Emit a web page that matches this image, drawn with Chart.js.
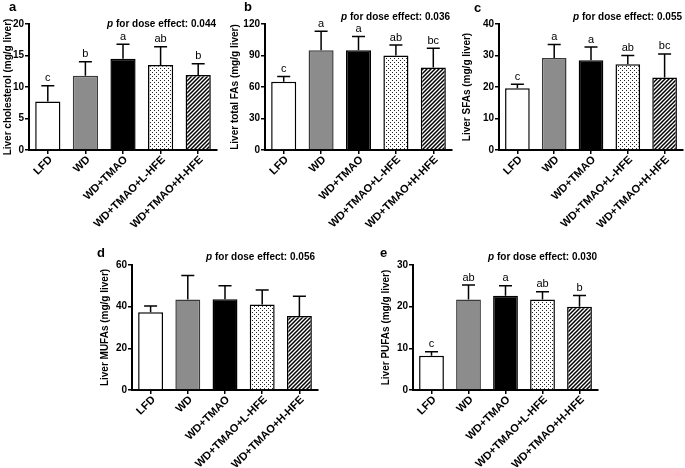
<!DOCTYPE html>
<html><head><meta charset="utf-8">
<script src="https://cdn.jsdelivr.net/npm/chart.js@4"></script>
<style>
body{margin:0;background:#fff}
#wrap{position:relative;width:685px;height:468px;background:#fff}
#wrap canvas{position:absolute;left:0;top:0}
</style></head>
<body><div id="wrap">
<canvas id="ca" width="685" height="468"></canvas>
<canvas id="cb" width="685" height="468"></canvas>
<canvas id="cc" width="685" height="468"></canvas>
<canvas id="cd" width="685" height="468"></canvas>
<canvas id="ce" width="685" height="468"></canvas>
</div>
<script>
const groups = ['LFD', 'WD', 'WD+TMAO', 'WD+TMAO+L-HFE', 'WD+TMAO+H-HFE'];

const cholMean = [7.7, 11.8, 14.5, 13.5, 11.9];
const cholSD = [2.5, 2.2, 2.3, 2.9, 1.8];
const cholLetters = ['c', 'b', 'a', 'ab', 'b'];
const cholTicks = [0, 5, 10, 15, 20];

const tfaMean = [65, 95, 95, 90, 78.5];
const tfaSD = [5, 18, 13, 10, 18.5];
const tfaLetters = ['c', 'a', 'a', 'ab', 'bc'];
const tfaTicks = [0, 30, 60, 90, 120];

const sfaMean = [19.6, 29.2, 28.5, 27.2, 23];
const sfaSD = [1.3, 4.3, 4.2, 2.8, 7.5];
const sfaLetters = ['c', 'a', 'a', 'ab', 'bc'];
const sfaTicks = [0, 10, 20, 30, 40];

const mufaMean = [37.3, 43.5, 43.6, 41, 35.5];
const mufaSD = [3, 11.5, 6.5, 7, 9.5];
const mufaLetters = ['', '', '', '', ''];
const mufaTicks = [0, 20, 40, 60];

const pufaMean = [8.2, 21.7, 22.6, 21.7, 20];
const pufaSD = [1.0, 3.5, 2.4, 1.9, 2.7];
const pufaLetters = ['c', 'ab', 'a', 'ab', 'b'];
const pufaTicks = [0, 10, 20, 30];

const pValues = ['0.044', '0.036', '0.055', '0.056', '0.030'];

const FONT = '"Liberation Sans", Arial, sans-serif';
const W = 685, H = 468;

function makePatterns(ctx) {
  const d = document.createElement('canvas');
  d.width = 4; d.height = 4;
  const g = d.getContext('2d');
  g.fillStyle = '#fff'; g.fillRect(0, 0, 4, 4);
  g.fillStyle = '#222';
  g.fillRect(0, 0, 1, 1); g.fillRect(2, 2, 1, 1);
  const h = document.createElement('canvas');
  h.width = 4; h.height = 4;
  const k = h.getContext('2d');
  k.fillStyle = '#fff'; k.fillRect(0, 0, 4, 4);
  k.strokeStyle = '#000'; k.lineWidth = 1.5;
  k.beginPath();
  k.moveTo(0, 4); k.lineTo(4, 0);
  k.moveTo(-1, 1); k.lineTo(1, -1);
  k.moveTo(3, 5); k.lineTo(5, 3);
  k.stroke();
  return [ctx.createPattern(d, 'repeat'), ctx.createPattern(h, 'repeat')];
}

function panel(id, p) {
  const canvas = document.getElementById(id);
  const ctx = canvas.getContext('2d');
  const [dots, hatch] = makePatterns(ctx);
  const YW = 24, XH = 5;
  const ticks = p.ticks;
  const annot = {
    id: 'annot' + id,
    afterDatasetsDraw(chart) {
      const c = chart.ctx;
      const meta = chart.getDatasetMeta(0);
      const ys = chart.scales.y;
      c.save();
      c.strokeStyle = '#000';
      c.lineWidth = 1.5;
      meta.data.forEach((bar, i) => {
        const top = ys.getPixelForValue(p.mean[i] + p.sd[i]);
        c.beginPath();
        c.moveTo(bar.x, bar.y);
        c.lineTo(bar.x, top);
        c.moveTo(bar.x - 6.5, top);
        c.lineTo(bar.x + 6.5, top);
        c.stroke();
        if (p.letters[i]) {
          c.fillStyle = '#000';
          c.font = '11px ' + FONT;
          c.textAlign = 'center';
          c.textBaseline = 'bottom';
          c.fillText(p.letters[i], bar.x, top - 2);
        }
      });
      c.restore();
    },
    afterDraw(chart) {
      const c = chart.ctx;
      const a = chart.chartArea;
      const xs = chart.scales.x;
      c.save();
      c.fillStyle = '#000';
      // category labels, rotated 45 degrees
      c.font = 'bold 11px ' + FONT;
      c.textAlign = 'right';
      c.textBaseline = 'middle';
      groups.forEach((g, i) => {
        const x = xs.getPixelForValue(i);
        c.save();
        c.translate(x + 3, a.bottom + 8);
        c.rotate(-Math.PI / 4);
        c.fillText(g, 0, 0);
        c.restore();
      });
      // panel letter
      c.font = 'bold 13px ' + FONT;
      c.textAlign = 'left';
      c.textBaseline = 'alphabetic';
      c.fillText(p.letter, p.letterX, p.letterY);
      // y title
      c.save();
      c.translate(p.titleX, (a.top + a.bottom) / 2);
      c.rotate(-Math.PI / 2);
      c.font = 'bold 10px ' + FONT;
      c.textAlign = 'center';
      c.textBaseline = 'middle';
      c.fillText(p.yTitle, 0, 0);
      c.restore();
      // p text
      c.textBaseline = 'middle';
      c.font = 'bold 10px ' + FONT;
      const rest = ' for dose effect: ' + p.pval;
      const wr = c.measureText(rest).width;
      c.font = 'italic bold 10px ' + FONT;
      const wp = c.measureText('p').width;
      const x0 = p.pRight - wr - wp;
      c.fillText('p', x0, p.pY);
      c.font = 'bold 10px ' + FONT;
      c.fillText(rest, x0 + wp, p.pY);
      c.restore();
    }
  };
  new Chart(ctx, {
    type: 'bar',
    data: {
      labels: groups,
      datasets: [{
        data: p.mean,
        backgroundColor: ['#ffffff', '#8c8c8c', '#000000', dots, hatch],
        borderColor: ['#000', '#3a3a3a', '#000', '#000', '#000'],
        borderWidth: 1.5,
        barPercentage: 0.67,
        categoryPercentage: 1.0
      }]
    },
    options: {
      responsive: false,
      animation: false,
      events: [],
      layout: { padding: { left: p.L - YW, right: W - p.R, top: p.T, bottom: H - p.B - XH } },
      plugins: { legend: { display: false }, tooltip: { enabled: false } },
      scales: {
        x: {
          offset: true,
          grid: { display: true, drawOnChartArea: false, drawTicks: true, tickLength: 4, color: '#000', lineWidth: 1.5, offset: false },
          border: { display: true, color: '#000', width: 2 },
          ticks: { display: false },
          afterFit(s) { s.height = XH; }
        },
        y: {
          min: ticks[0], max: ticks[ticks.length - 1],
          afterBuildTicks(s) { s.ticks = ticks.map(v => ({ value: v })); },
          grid: { display: true, drawOnChartArea: false, drawTicks: true, tickLength: 4, color: '#000', lineWidth: 1.5 },
          border: { display: true, color: '#000', width: 2 },
          ticks: { color: '#000', padding: 1, font: { family: FONT, size: 10, weight: 'bold' } },
          afterFit(s) { s.width = YW; }
        }
      }
    },
    plugins: [annot]
  });
}

panel('ca', { mean: cholMean, sd: cholSD, letters: cholLetters, ticks: cholTicks, L: 29, R: 217, T: 24, B: 150,
  yTitle: 'Liver cholesterol (mg/g liver)', titleX: 8, letter: 'a', letterX: 9, letterY: 11, pval: pValues[0], pRight: 216, pY: 24 });
panel('cb', { mean: tfaMean, sd: tfaSD, letters: tfaLetters, ticks: tfaTicks, L: 265, R: 452, T: 24, B: 150,
  yTitle: 'Liver total FAs (mg/g liver)', titleX: 235, letter: 'b', letterX: 244, letterY: 11, pval: pValues[1], pRight: 450, pY: 17 });
panel('cc', { mean: sfaMean, sd: sfaSD, letters: sfaLetters, ticks: sfaTicks, L: 499, R: 683, T: 24, B: 150,
  yTitle: 'Liver SFAs (mg/g liver)', titleX: 467, letter: 'c', letterX: 474, letterY: 12, pval: pValues[2], pRight: 682, pY: 17 });
panel('cd', { mean: mufaMean, sd: mufaSD, letters: mufaLetters, ticks: mufaTicks, L: 132, R: 318, T: 265, B: 390,
  yTitle: 'Liver MUFAs (mg/g liver)', titleX: 105, letter: 'd', letterX: 97, letterY: 257, pval: pValues[3], pRight: 315, pY: 257 });
panel('ce', { mean: pufaMean, sd: pufaSD, letters: pufaLetters, ticks: pufaTicks, L: 413, R: 598, T: 265, B: 390,
  yTitle: 'Liver PUFAs (mg/g liver)', titleX: 386, letter: 'e', letterX: 380, letterY: 257, pval: pValues[4], pRight: 597, pY: 257 });
</script>
</body></html>
